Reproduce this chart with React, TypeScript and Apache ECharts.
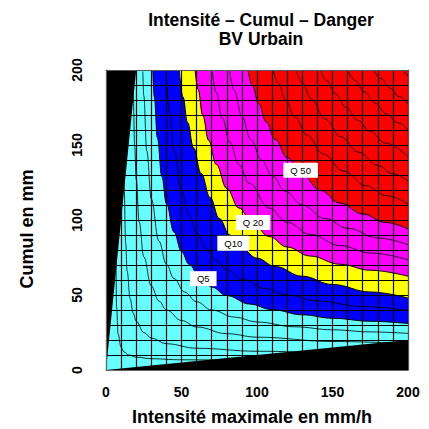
import React, { useEffect, useRef } from 'react';
import * as echarts from 'echarts';

// ---- texts ----
const chartTitle = 'Intensité – Cumul – Danger\nBV Urbain';
const xAxisName = 'Intensité maximale en mm/h';
const yAxisName = 'Cumul en mm';

// ---- zone colours (cyan < Q5 < blue < Q10 < yellow < Q20 < magenta < Q50 < red) ----
const zoneColors = ['#66FFFF', '#0000FF', '#FFFF00', '#FF00FF', '#FF0000'];

// ---- zone boundaries [intensity, cumul] ----
const boundaryQ5 = [[31,200],[32,182],[34,155],[37,129],[40,111],[45,92],[50,79],[55,70.5],[62,62],[70,55.3],[80,49.6],[95,44],[110,40.2],[130,36.8],[150,34.5],[175,32.5],[200,31]];
const boundaryQ10 = [[48.5,200],[51,182],[54,165],[58,148],[63,131],[69,115],[75,101],[82,90],[90,81],[100,74.5],[112,69],[130,62.5],[150,57],[175,52],[200,48]];
const boundaryQ20 = [[59,200],[61,187],[64,170],[68,153],[73,137],[80,121],[88,108],[97,98],[108,89],[120,82],[135,76],[155,70.5],[175,66.5],[200,62.5]];
const boundaryQ50 = [[94,200],[97,189.6],[101,177.7],[106,165.5],[112,153.8],[120,141.6],[130,130],[142,119.7],[155,111.3],[170,104],[185,98.4],[200,94]];

// ---- other iso-lines ----
const isoA = [[6.2,186],[6.5,78],[7,42],[8,24],[10,15],[12,12],[15,10],[20,8.6],[30,7.5],[50,6.8],[100,6.4],[200,6.2]];
const isoB = [[11.2,199],[11.5,160],[12,122.5],[13,85],[14,66],[16,47.5],[18,38],[20,32.5],[25,25],[30,21.3],[40,17.5],[60,14.5],[100,12.5],[150,11.6],[200,11.2]];
const isoC = [[17.7,198],[18,183],[19,149],[20,127],[22,98.5],[25,75.5],[30,56],[35,46],[40,40],[50,33],[60,28.7],[80,24.2],[100,21.9],[150,19],[200,17.6]];
const isoD = [[24.4,199],[25,183],[27,146],[30,114],[35,86],[40,70.5],[45,61],[52,52],[60,45.5],[70,40],[85,35.3],[100,32],[125,28.8],[150,26.8],[175,25.4],[200,24.4]];
const isoE = [[39.8,199.6],[42,172.6],[45,147],[50,120],[55,103],[60,91.3],[66,81.3],[73,73],[80,67],[90,60.7],[105,54.3],[120,50],[140,46],[170,42.3],[200,39.8]];
const isoF = [[70.3,199.7],[73,185],[77,168],[82,152],[88,137],[95,124.3],[108,108],[120,98.5],[135,90.5],[155,83],[175,78],[200,73.5]];
const isoG = [[81.8,199.7],[85,186],[90,169],[96,153.5],[103,140],[110,129.4],[119,119],[130,110],[145,101],[160,94.5],[180,88],[200,83.5]];
const isoR1 = [[110.8,199.8],[114,191.3],[119,180],[125,168.7],[133,156.7],[144,144],[157,132.8],[172,123],[186,116.2],[200,110.7]];
const isoR2 = [[126,200],[130,191.5],[136,180.6],[145,167.4],[155.5,155.5],[167,145.3],[180,136.4],[190,130.8],[200,126]];
const isoR3 = [[142.1,199.9],[146,193],[152,184],[159,175],[166.6,166.6],[175,159],[185,151.3],[200,142.1]];
const isoR4 = [[160,200],[165,193],[171,185.5],[178,178],[186,170.6],[193,165],[200,160]];
const isoR5 = [[177.3,200],[182,194.4],[188,188],[194,182.3],[200,177.3]];
const isoR6 = [[196,200],[198,198],[200,196]];

// ---- excluded (black) wedges ----
const wedgeLeft = [[0,0],[20,200]];
const wedgeBottom = [[0,0],[200,20]];

// ---- curve labels ----
const labelNames = ['Q5', 'Q10', 'Q 20', 'Q 50'];
const labelIntensity = [64.4, 84.3, 97.4, 128.9];
const labelCumul = [60.9, 84.5, 98.3, 133.1];

const FONT = 'Liberation Sans, Arial, Helvetica, sans-serif';

export default function App() {
  const ref = useRef<HTMLDivElement>(null);

  useEffect(() => {
    if (!ref.current) return;
    const chart = echarts.init(ref.current, null, { renderer: 'svg' });

    const boundaries = [boundaryQ5, boundaryQ10, boundaryQ20, boundaryQ50];
    const isoLines = [isoA, isoB, isoC, isoD, isoE, isoF, isoG, isoR1, isoR2, isoR3, isoR4, isoR5, isoR6];

    const fillSeries = boundaries.map((b, i) => ({
      type: 'line',
      data: b,
      symbol: 'none',
      smooth: 0.4,
      smoothMonotone: 'x',
      lineStyle: { color: '#000', width: 1 },
      areaStyle: { color: zoneColors[i + 1], opacity: 1, origin: 'end' },
      silent: true,
      z: 2,
    }));

    const isoSeries = isoLines.map((d) => ({
      type: 'line',
      data: d,
      symbol: 'none',
      smooth: 0.4,
      smoothMonotone: 'x',
      lineStyle: { color: '#000', width: 0.9, opacity: 0.9 },
      silent: true,
      z: 2,
    }));

    const wedgeSeries = [
      { data: wedgeLeft, origin: 'end' },
      { data: wedgeBottom, origin: 'start' },
    ].map((w) => ({
      type: 'line',
      data: w.data,
      symbol: 'none',
      lineStyle: { width: 0 },
      areaStyle: { color: '#000', opacity: 1, origin: w.origin },
      silent: true,
      z: 3,
    }));

    const labelSeries = {
      type: 'scatter',
      symbolSize: 0,
      itemStyle: { color: '#fff', opacity: 1 },
      z: 10,
      silent: true,
      data: labelNames.map((n, i) => ({ name: n, value: [labelIntensity[i], labelCumul[i]] })),
      label: {
        show: true,
        position: 'inside',
        formatter: (p: any) => p.name,
        backgroundColor: '#ffffff',
        opacity: 1,
        padding: [3, 7, 2, 7],
        fontSize: 9.5,
        fontFamily: FONT,
        color: '#000',
      },
    };

    const mainAxisCommon = {
      type: 'value',
      min: 0,
      max: 200,
      interval: 50,
      z: 5,
      axisTick: { show: false },
      axisLine: { show: true, onZero: false, lineStyle: { color: '#666', width: 1 } },
      splitLine: { show: true, lineStyle: { color: '#000', width: 1.2 } },
      minorTick: { show: false, splitNumber: 5 },
      minorSplitLine: { show: true, lineStyle: { color: '#000', width: 1.2 } },
    };

    const frameAxis = {
      type: 'value',
      min: 0,
      max: 200,
      z: 6,
      axisLine: { show: true, onZero: false, lineStyle: { color: '#555', width: 1 } },
      axisTick: { show: false },
      axisLabel: { show: false },
      splitLine: { show: false },
    };

    const axisTitleStyle = { fontFamily: FONT, fontWeight: 'bold', fontSize: 18, fill: '#000' };

    chart.setOption({
      animation: false,
      backgroundColor: '#fff',
      title: {
        text: chartTitle,
        left: 256,
        top: 5,
        textAlign: 'center',
        textStyle: { fontFamily: FONT, fontWeight: 'bold', fontSize: 17.5, lineHeight: 19.5, color: '#000' },
      },
      grid: {
        left: 106,
        right: 21,
        top: 70,
        bottom: 59,
        show: true,
        backgroundColor: zoneColors[0],
        borderWidth: 0,
      },
      graphic: [
        {
          type: 'text',
          x: 252,
          y: 417,
          style: { ...axisTitleStyle, text: xAxisName, textAlign: 'center', textVerticalAlign: 'middle' },
        },
        {
          type: 'text',
          x: 27,
          y: 229,
          rotation: Math.PI / 2,
          style: { ...axisTitleStyle, text: yAxisName, textAlign: 'center', textVerticalAlign: 'middle' },
        },
      ],
      xAxis: [
        {
          ...mainAxisCommon,
          position: 'bottom',
          axisLabel: { fontFamily: FONT, fontWeight: 'bold', fontSize: 14, color: '#000', margin: 15 },
        },
        { ...frameAxis, position: 'top' },
      ],
      yAxis: [
        {
          ...mainAxisCommon,
          position: 'left',
          axisLabel: { fontFamily: FONT, fontWeight: 'bold', fontSize: 14, color: '#000', margin: 22, rotate: 90 },
        },
        { ...frameAxis, position: 'right' },
      ],
      series: [...fillSeries, ...isoSeries, ...wedgeSeries, labelSeries],
    });

    return () => chart.dispose();
  }, []);

  return (
    <div
      ref={ref}
      style={{ position: 'fixed', left: 0, top: 0, width: 429, height: 429, background: '#fff' }}
    />
  );
}
